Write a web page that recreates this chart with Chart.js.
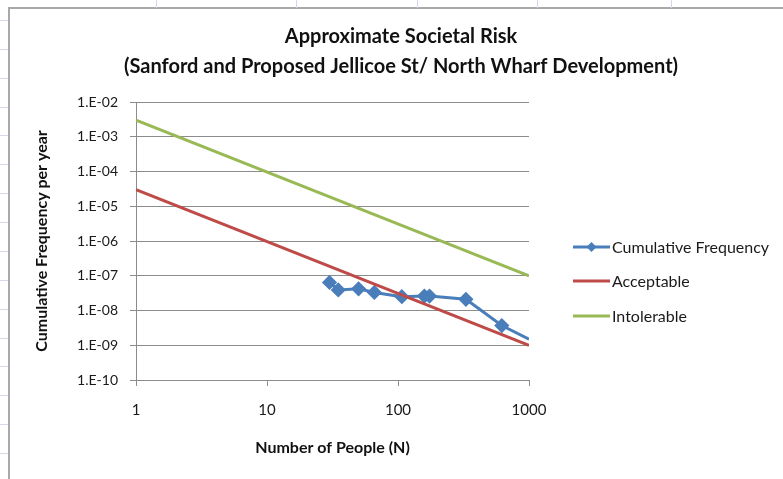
<!DOCTYPE html>
<html>
<head>
<meta charset="utf-8">
<script src="https://cdn.jsdelivr.net/npm/chart.js@4"></script>
<style>
    html, body { margin: 0; padding: 0; background: #fff; overflow: hidden; }
    body { width: 783px; height: 479px; position: relative; }
    .cellH { position: absolute; left: 0; width: 8px; height: 1px; background: #d3d9e6; }
    .cellV { position: absolute; top: 0; width: 1px; height: 8px; background: #d3d9e6; }
    #frame {
        position: absolute; left: 8px; top: 7px;
        width: 790px; height: 480px;
        border-left: 2px solid #a9a9a9; border-top: 2px solid #a9a9a9;
        background: #fff;
    }
    #riskChart { position: absolute; left: 0; top: 0; }
</style>
</head>
<body>

<div id="frame">
    <canvas id="riskChart" width="782" height="470"></canvas>
</div>

<script>
/* ===============================
   داده‌ها
=============================== */

const people = [30, 35, 50, 66, 107, 159, 174, 330, 620, 1000];
const cumulativeFreq = [6.4e-8, 3.9e-8, 4.2e-8, 3.3e-8, 2.5e-8, 2.6e-8, 2.6e-8, 2.1e-8, 3.7e-9, 1.5e-9];

const limitPeople = [1, 1000];
const acceptable = [3e-5, 1e-9];
const intolerable = [3e-3, 1e-7];

const xTickValues = [1, 10, 100, 1000];
const yTickValues = [1e-10, 1e-9, 1e-8, 1e-7, 1e-6, 1e-5, 1e-4, 1e-3, 1e-2];
const yTickLabels = ["1.E-10", "1.E-09", "1.E-08", "1.E-07", "1.E-06", "1.E-05", "1.E-04", "1.E-03", "1.E-02"];

const seriesNames = ["Cumulative Frequency", "Acceptable", "Intolerable"];
const seriesColors = ["#4a7ebb", "#be4b48", "#98b954"];

const FONT = "Lato, 'Liberation Sans', sans-serif";


/* ===============================
   خطوط صفحه‌گسترده پشت نمودار
=============================== */

for (let k = 0; k < 16; k++) {
    const d = document.createElement("div");
    d.className = "cellH";
    d.style.top = Math.round(20 + k * 28.87) + "px";
    document.body.appendChild(d);
}
[156, 296, 417, 537, 671].forEach(x => {
    const d = document.createElement("div");
    d.className = "cellV";
    d.style.left = x + "px";
    document.body.appendChild(d);
});


/* ===============================
   لجند دستی
=============================== */

const sideLegend = {
    id: "sideLegend",
    afterDraw(chart) {
        const ctx = chart.ctx;
        const rows = [238, 272, 307];
        ctx.save();
        rows.forEach((y, i) => {
            ctx.strokeStyle = seriesColors[i];
            ctx.lineWidth = 3;
            ctx.beginPath();
            ctx.moveTo(563, y);
            ctx.lineTo(600, y);
            ctx.stroke();
            if (i === 0) {
                ctx.fillStyle = seriesColors[0];
                ctx.beginPath();
                ctx.moveTo(581.5, y - 5);
                ctx.lineTo(586.5, y);
                ctx.lineTo(581.5, y + 5);
                ctx.lineTo(576.5, y);
                ctx.closePath();
                ctx.fill();
            }
            ctx.fillStyle = "#1a1a1a";
            ctx.font = "16px " + FONT;
            ctx.textBaseline = "middle";
            ctx.textAlign = "left";
            ctx.fillText(seriesNames[i], 602, y + 1);
        });
        ctx.restore();
    }
};


/* ===============================
   نمودار
=============================== */

const ctx = document.getElementById("riskChart").getContext("2d");

new Chart(ctx, {

    type: "line",

    data: {
        datasets: [{
            label: seriesNames[0],
            data: people.map((p, i) => ({ x: p, y: cumulativeFreq[i] })),
            borderColor: seriesColors[0],
            backgroundColor: seriesColors[0],
            borderWidth: 3,
            pointStyle: "rectRot",
            pointRadius: people.map((p, i) => i === people.length - 1 ? 0 : 5.5),
            order: 3
        }, {
            label: seriesNames[1],
            data: limitPeople.map((p, i) => ({ x: p, y: acceptable[i] })),
            borderColor: seriesColors[1],
            borderWidth: 3,
            pointRadius: 0,
            order: 2
        }, {
            label: seriesNames[2],
            data: limitPeople.map((p, i) => ({ x: p, y: intolerable[i] })),
            borderColor: seriesColors[2],
            borderWidth: 3,
            pointRadius: 0,
            order: 1
        }]
    },

    options: {
        responsive: false,
        animation: false,
        devicePixelRatio: 1,

        layout: {
            padding: 0
        },

        plugins: {
            legend: { display: false },
            tooltip: { enabled: false },
            title: {
                display: true,
                text: ["Approximate Societal Risk", "(Sanford and Proposed Jellicoe St/ North Wharf Development)"],
                color: "#111",
                font: { family: FONT, size: 20, weight: "bold", lineHeight: 30 / 20 },
                padding: { top: 13, bottom: 20 }
            }
        },

        scales: {
            x: {
                type: "logarithmic",
                min: 1,
                max: 1000,
                afterBuildTicks: scale => {
                    scale.ticks = xTickValues.map(v => ({ value: v }));
                },
                afterFit: scale => { scale.height = 99; },
                ticks: {
                    color: "#1a1a1a",
                    font: { family: FONT, size: 15 },
                    padding: 15,
                    maxRotation: 0,
                    autoSkip: false,
                    callback: v => String(v)
                },
                grid: {
                    drawOnChartArea: false,
                    drawTicks: true,
                    tickLength: 6,
                    color: "#8c8c8c"
                },
                border: { display: true, color: "#8c8c8c", width: 1 },
                title: {
                    display: true,
                    text: "Number of People (N)",
                    color: "#111",
                    font: { family: FONT, size: 16, weight: "bold" },
                    padding: { top: 0, bottom: 22 }
                }
            },
            y: {
                type: "logarithmic",
                min: 1e-10,
                max: 1e-2,
                afterBuildTicks: scale => {
                    scale.ticks = yTickValues.map(v => ({ value: v }));
                },
                afterFit: scale => { scale.width = 126; },
                ticks: {
                    color: "#1a1a1a",
                    font: { family: FONT, size: 14 },
                    padding: 12,
                    autoSkip: false,
                    callback: v => yTickLabels[yTickValues.findIndex(t => Math.abs(Math.log10(t) - Math.log10(v)) < 1e-6)]
                },
                grid: {
                    drawTicks: true,
                    tickLength: 6,
                    color: "#8c8c8c"
                },
                border: { display: true, color: "#8c8c8c", width: 1 },
                title: {
                    display: true,
                    text: "Cumulative Frequency per year",
                    color: "#111",
                    font: { family: FONT, size: 16, weight: "bold" },
                    padding: { top: 22, bottom: 0 }
                }
            },
            // محور خالی سمت راست فقط برای جای لجند
            spacer: {
                type: "linear",
                position: "right",
                afterFit: scale => { scale.width = 263; },
                ticks: { display: false },
                grid: { display: false },
                border: { display: false }
            }
        }
    },

    plugins: [sideLegend]

});
</script>
</body>
</html>
